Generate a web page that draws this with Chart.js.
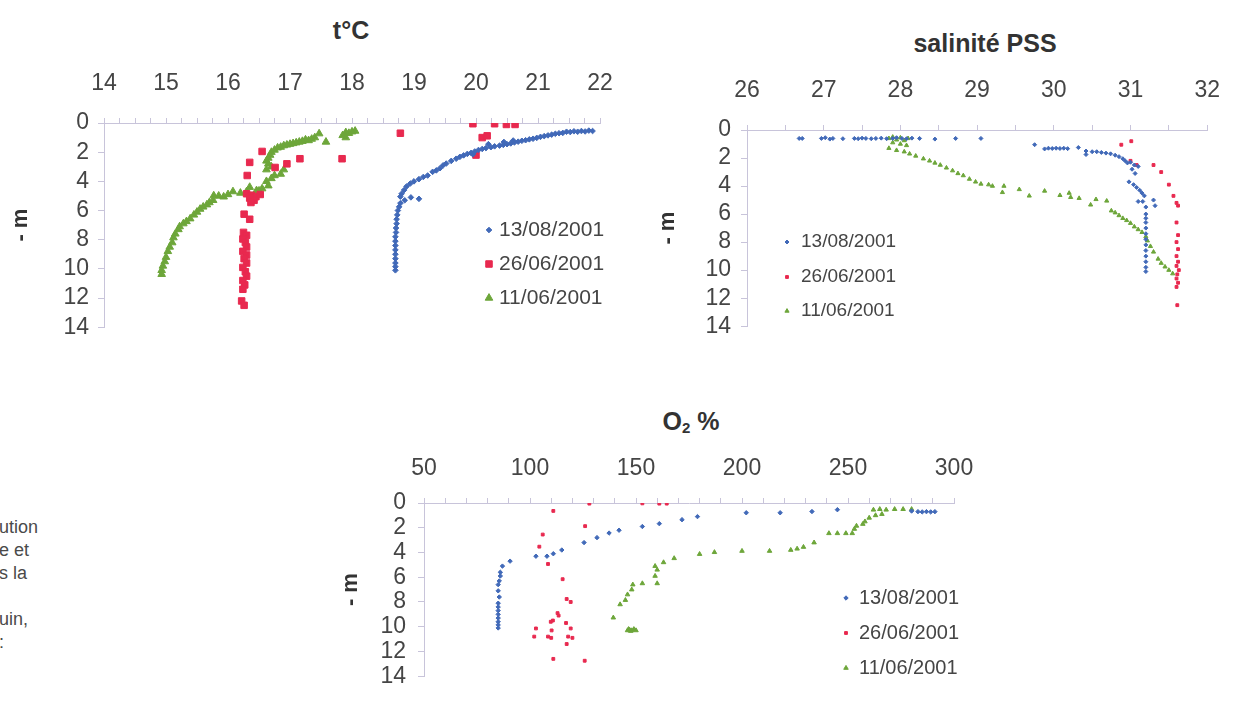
<!DOCTYPE html>
<html><head><meta charset="utf-8">
<script src="https://cdn.jsdelivr.net/npm/chart.js@4.4.0/dist/chart.umd.min.js"></script>
<style>
html,body{margin:0;padding:0;background:#fff;width:1241px;height:702px;overflow:hidden;font-family:"Liberation Sans",Arial,Helvetica,sans-serif;color:#404040;}
.box{position:absolute;}
.ttl{position:absolute;font-weight:bold;font-size:25px;transform:translate(-50%,-50%);white-space:nowrap;color:#333;line-height:1;}
.ttl sub{font-size:60%;vertical-align:-0.25em;}
.cap{position:absolute;left:-1px;top:516px;font-size:18px;line-height:23px;color:#4a4a4a;white-space:pre;}
</style></head><body>

<div class="ttl" style="left:351px;top:30px;">t°C</div>
<div class="ttl" style="left:985px;top:43px;">salinité PSS</div>
<div class="ttl" style="left:691px;top:422px;">O<sub>2</sub> %</div>
<div class="cap">ution
e et
s la

uin,
:</div>

<div class="box" style="left:0;top:0;"><canvas id="c1" width="640" height="350"></canvas></div>
<div class="box" style="left:640px;top:0;"><canvas id="c2" width="601" height="350"></canvas></div>
<div class="box" style="left:330px;top:380px;"><canvas id="c3" width="680" height="322"></canvas></div>

<script>
// ---------- DATA ----------
const seriesLabels = ['13/08/2001', '26/06/2001', '11/06/2001'];
const depthTicks = [0, 2, 4, 6, 8, 10, 12, 14];
const tempTicks = [14, 15, 16, 17, 18, 19, 20, 21, 22];
const salTicks = [26, 27, 28, 29, 30, 31, 32];
const oxyTicks = [50, 100, 150, 200, 250, 300];

// temperature [°C, depth m]
const tempAug = [[21.88,0.55],[21.82,0.52],[21.76,0.58],[21.7,0.55],[21.64,0.6],[21.58,0.57],[21.52,0.62],[21.46,0.6],[21.4,0.68],[21.34,0.7],[21.28,0.74],[21.22,0.8],[21.16,0.85],[21.1,0.9],[21.04,0.95],[20.98,1.02],[20.92,1.08],[20.86,1.12],[20.8,1.18],[20.74,1.22],[20.68,1.28],[20.62,1.33],[20.56,1.4],[20.5,1.45],[20.44,1.5],[20.38,1.55],[20.3,1.6],[20.24,1.66],[20.16,1.72],[20.1,1.78],[20.04,1.85],[19.98,1.95],[19.92,2.05],[19.86,2.12],[19.8,2.22],[19.74,2.32],[19.68,2.45],[19.6,2.6],[19.52,2.78],[19.47,2.9],[19.42,3.1],[19.36,3.25],[19.3,3.35],[19.22,3.6],[19.15,3.7],[19.08,3.85],[19.0,4.0],[18.94,4.15],[18.88,4.35],[18.84,4.6],[18.8,4.85],[18.78,5.05],[18.95,5.1],[19.08,5.2],[18.85,5.3],[18.78,5.5],[18.76,5.75],[18.74,6.0],[18.73,6.3],[18.72,6.6],[18.72,6.9],[18.71,7.2],[18.71,7.5],[18.7,7.8],[18.7,8.1],[18.7,8.4],[18.7,8.7],[18.7,9.0],[18.7,9.3],[18.7,9.6],[18.7,9.85],[18.7,10.1],[20.2,1.45],[20.45,1.3],[19.95,2.15],[20.6,1.2]];
const tempJun26 = [[19.95,0.05],[20.3,0.05],[20.49,0.1],[20.63,0.1],[18.78,0.7],[20.1,1.0],[20.18,0.88],[20.0,2.2],[17.84,2.45],[17.16,2.45],[16.95,2.8],[16.76,3.05],[16.55,1.95],[16.35,2.7],[16.31,3.6],[16.3,4.85],[16.38,4.95],[16.45,5.05],[16.52,4.9],[16.35,5.15],[16.42,5.3],[16.37,5.45],[16.26,6.25],[16.35,6.6],[16.25,7.5],[16.3,7.7],[16.24,7.95],[16.28,8.2],[16.3,8.5],[16.24,8.8],[16.3,9.05],[16.26,9.3],[16.3,9.6],[16.24,9.9],[16.28,10.2],[16.3,10.5],[16.24,10.8],[16.27,11.1],[16.24,11.4],[16.22,12.2],[16.26,12.5]];
const tempJun11 = [[18.05,0.55],[18.0,0.6],[17.95,0.7],[17.9,0.65],[17.85,0.85],[17.9,1.0],[17.47,0.73],[17.58,1.3],[17.4,1.0],[17.35,1.1],[17.3,1.2],[17.25,1.15],[17.2,1.25],[17.15,1.3],[17.1,1.35],[17.05,1.4],[17.0,1.45],[16.95,1.5],[16.9,1.55],[16.85,1.65],[16.8,1.7],[16.75,1.85],[16.7,2.0],[16.68,2.2],[16.65,2.4],[16.62,2.6],[16.65,2.8],[16.7,3.0],[16.62,3.2],[16.9,3.2],[16.85,3.5],[16.75,3.6],[16.7,3.8],[16.62,4.0],[16.65,4.3],[16.55,4.5],[16.5,4.65],[16.46,4.63],[16.35,4.4],[16.3,4.7],[16.2,4.8],[16.08,4.7],[16.0,4.9],[15.93,5.06],[15.85,5.0],[15.77,4.98],[15.76,5.3],[15.7,5.45],[15.66,5.6],[15.6,5.75],[15.55,5.9],[15.5,6.1],[15.45,6.3],[15.39,6.56],[15.33,6.75],[15.28,6.9],[15.22,7.1],[15.2,7.3],[15.15,7.6],[15.12,7.86],[15.1,8.2],[15.06,8.5],[15.03,8.8],[15.0,9.2],[14.98,9.5],[14.95,9.8],[14.93,10.1],[14.93,10.37]];

// salinity [PSS, depth m]
const salAug = [[26.68,0.6],[26.72,0.6],[26.97,0.6],[27.02,0.55],[27.08,0.65],[27.12,0.6],[27.25,0.62],[27.4,0.6],[27.45,0.62],[27.5,0.58],[27.55,0.6],[27.62,0.62],[27.68,0.6],[27.75,0.58],[27.82,0.62],[27.9,0.6],[27.95,0.55],[28.02,0.6],[28.08,0.62],[28.15,0.58],[28.25,0.6],[28.45,0.65],[28.72,0.6],[29.05,0.6],[29.75,1.05],[29.88,1.35],[29.93,1.3],[29.98,1.32],[30.03,1.3],[30.08,1.32],[30.13,1.3],[30.18,1.33],[30.32,1.25],[30.42,1.5],[30.42,1.75],[30.5,1.55],[30.56,1.55],[30.62,1.6],[30.68,1.65],[30.74,1.7],[30.8,1.8],[30.85,1.9],[30.9,2.05],[30.93,2.2],[30.96,2.35],[31.0,2.3],[31.05,2.5],[31.02,2.8],[31.06,3.1],[31.1,2.6],[30.98,3.7],[31.04,3.9],[31.08,4.1],[31.12,4.3],[31.15,4.5],[31.18,4.7],[31.1,5.1],[31.16,5.1],[31.3,5.0],[31.32,5.4],[31.2,5.5],[31.2,6.0],[31.2,6.3],[31.2,6.6],[31.2,7.0],[31.2,7.4],[31.2,7.8],[31.2,8.2],[31.2,8.6],[31.2,9.0],[31.2,9.4],[31.2,9.8],[31.2,10.1]];
const salJun26 = [[30.88,1.05],[31.01,0.8],[31.0,2.2],[31.08,2.5],[31.3,2.5],[31.4,3.0],[31.5,3.9],[31.56,4.7],[31.6,5.2],[31.62,5.4],[31.6,6.6],[31.62,7.5],[31.6,8.0],[31.62,8.5],[31.6,9.0],[31.62,9.4],[31.6,9.7],[31.63,10.0],[31.61,10.3],[31.6,10.6],[31.62,10.9],[31.6,11.2],[31.61,12.5]];
const salJun11 = [[27.85,0.6],[27.9,0.5],[27.95,0.7],[28.0,0.55],[28.05,0.75],[28.1,0.6],[27.9,0.9],[28.0,1.0],[28.08,1.1],[27.85,1.3],[27.95,1.45],[28.05,1.55],[28.12,1.7],[28.2,1.85],[28.3,2.05],[28.38,2.2],[28.45,2.35],[28.52,2.5],[28.6,2.7],[28.68,2.9],[28.75,3.1],[28.82,3.25],[28.9,3.5],[28.98,3.7],[29.05,3.85],[29.15,3.9],[29.2,4.0],[29.33,4.45],[29.35,4.0],[29.55,4.24],[29.68,4.7],[29.88,4.35],[30.08,4.66],[30.2,4.5],[30.22,4.8],[30.33,4.87],[30.48,5.34],[30.55,4.95],[30.69,5.06],[30.75,5.76],[30.8,5.9],[30.85,6.1],[30.9,6.3],[30.95,6.45],[31.0,6.65],[31.05,6.9],[31.1,7.1],[31.15,7.3],[31.2,7.6],[31.22,7.9],[31.26,8.3],[31.3,8.7],[31.36,9.2],[31.4,9.5],[31.45,9.76],[31.5,10.0],[31.55,10.25]];

// oxygen saturation [%, depth m]
const oxyAug = [[291,0.7],[289,0.72],[287,0.7],[285,0.72],[283,0.7],[280,0.65],[245,0.54],[233,0.69],[218,0.79],[202,0.79],[179,1.1],[171.7,1.35],[161,1.67],[153,1.9],[142,2.2],[137.3,2.43],[131.6,2.8],[125.5,3.2],[115,3.8],[111,4.1],[108,4.3],[102.8,4.3],[90.6,4.7],[87,5.1],[86,5.6],[86,5.9],[85.5,6.3],[85,6.6],[85,7.1],[85.5,7.6],[85,8.1],[85,8.4],[85,8.7],[85,9.0],[85,9.3],[85,9.6],[85,9.85],[85,10.1]];
const oxyJun26 = [[128,0.05],[153,0.03],[161,0.05],[164.5,0.05],[111,0.64],[126,1.87],[106,2.55],[104.4,3.53],[108.5,4.93],[115.4,6.16],[117.3,7.76],[119.2,8.0],[113,8.9],[113.5,9.1],[110.8,9.5],[109.8,9.6],[117,9.7],[102.8,10.14],[110.2,10.3],[119.2,10.14],[102,10.8],[108.5,10.8],[110,10.9],[120,10.9],[118,10.8],[117.3,11.4],[111,12.6],[125.8,12.75]];
const oxyJun11 = [[262,0.55],[265,0.5],[268,0.55],[272,0.5],[276,0.5],[280,0.5],[266,0.9],[263,1.0],[260,1.2],[258,1.5],[257,1.7],[254,1.85],[253,2.1],[252,2.45],[249,2.45],[245,2.45],[241,2.45],[234,3.2],[229,3.56],[226,3.7],[223,3.8],[213,3.88],[200,3.88],[187,3.98],[180,4.13],[168,4.47],[163,4.8],[159,5.1],[160,5.4],[159,5.9],[160,6.5],[153,6.5],[148.5,6.6],[148,7.0],[146,7.4],[145,7.85],[142.5,8.2],[139.3,9.27],[146,10.3],[147,10.25],[148,10.3],[149,10.2],[150,10.3],[147.5,10.35],[146.5,10.2]];

// ---------- STYLE ----------
const BLUE = '#4169b8', RED = '#e8294f', GREEN = '#6da63a';
const AXIS = '#c8c4da', TXT = '#454545';
Chart.defaults.font.family = "'Liberation Sans', Arial, Helvetica, sans-serif";
Chart.defaults.color = TXT;

function pts(arr) { return arr.map(p => ({x: p[0], y: p[1]})); }

function drawMarker(ctx, style, r, x, y) {
  ctx.beginPath();
  if (style === 'rect') {
    const s = r * Math.SQRT1_2; ctx.rect(x - s, y - s, 2 * s, 2 * s);
  } else if (style === 'rectRot') {
    ctx.moveTo(x, y - r); ctx.lineTo(x + r, y); ctx.lineTo(x, y + r); ctx.lineTo(x - r, y); ctx.closePath();
  } else if (style === 'triangle') {
    ctx.moveTo(x, y - r); ctx.lineTo(x + 0.866 * r, y + 0.5 * r); ctx.lineTo(x - 0.866 * r, y + 0.5 * r); ctx.closePath();
  } else { ctx.arc(x, y, r, 0, Math.PI * 2); }
  ctx.fill(); ctx.stroke();
}

function legendPlugin(lg) {
  return {
    id: 'lg' + lg.id,
    afterDraw(chart) {
      const ctx = chart.ctx;
      ctx.save();
      chart.data.datasets.forEach((ds, i) => {
        const y = lg.y[i] - lg.oy;
        ctx.fillStyle = ds.backgroundColor; ctx.strokeStyle = ds.borderColor; ctx.lineWidth = 1;
        drawMarker(ctx, ds.pointStyle, ds.pointRadius, lg.mx - lg.ox, y);
        ctx.fillStyle = TXT; ctx.font = lg.font; ctx.textBaseline = 'middle'; ctx.textAlign = 'left';
        ctx.fillText(ds.label, lg.tx - lg.ox, y);
      });
      ctx.restore();
    }
  };
}

function makeChart(c) {
  const isMajor = v => Math.abs(v / c.labelStep - Math.round(v / c.labelStep)) < 1e-6;
  return new Chart(document.getElementById(c.id), {
    type: 'scatter',
    data: {
      datasets: c.series.map((s, i) => ({
        label: seriesLabels[i], data: pts(s.data),
        pointStyle: s.style, pointRadius: s.r, pointHoverRadius: s.r,
        backgroundColor: s.color, borderColor: s.color, pointBorderWidth: 1, showLine: false
      }))
    },
    options: {
      responsive: false, animation: false, devicePixelRatio: 1,
      layout: { padding: { left: 0, top: 0, right: c.padR, bottom: c.padB } },
      plugins: { legend: { display: false }, tooltip: { enabled: false } },
      scales: {
        x: {
          type: 'linear', position: 'top', min: c.xMin, max: c.xMax,
          ticks: { stepSize: c.minorStep, autoSkip: false, maxRotation: 0, minRotation: 0, padding: c.xPad,
            font: { size: 23 }, color: TXT,
            callback: v => isMajor(v) ? String(Math.round(v)) : '' },
          grid: { drawOnChartArea: false, drawTicks: true, tickLength: 5, color: AXIS, lineWidth: 1 },
          border: { display: true, color: AXIS, width: 1 },
          afterFit: s => { s.height = c.xH; }
        },
        y: {
          type: 'linear', position: 'left', min: 0, max: 14, reverse: true,
          afterBuildTicks: s => { s.ticks = depthTicks.map(v => ({ value: v })); },
          ticks: { autoSkip: false, padding: c.yPad, font: { size: 23 }, color: TXT, callback: v => String(v) },
          grid: { drawOnChartArea: false, drawTicks: true, tickLength: 6, color: AXIS, lineWidth: 1 },
          border: { display: true, color: AXIS, width: 1 },
          title: { display: true, text: '- m', color: '#333', font: { size: 22, weight: 'bold' }, padding: { top: c.tPad, bottom: 0 } },
          afterFit: s => { s.width = c.yW; }
        }
      }
    },
    plugins: [legendPlugin(c.legend)]
  });
}

makeChart({
  id: 'c1', xMin: tempTicks[0], xMax: tempTicks[tempTicks.length - 1], minorStep: 0.25, labelStep: 1,
  xH: 123, yW: 104, padR: 40, padB: 12, xPad: 21, yPad: 9, tPad: 8,
  series: [
    { data: tempAug, style: 'rectRot', r: 2.8, color: BLUE },
    { data: tempJun26, style: 'rect', r: 4.6, color: RED },
    { data: tempJun11, style: 'triangle', r: 4.4, color: GREEN }
  ],
  legend: { id: 1, ox: 0, oy: 0, mx: 489, tx: 499, y: [230, 264, 298], font: '21px "Liberation Sans", Arial, sans-serif' }
});

makeChart({
  id: 'c2', xMin: salTicks[0], xMax: salTicks[salTicks.length - 1], minorStep: 0.5, labelStep: 1,
  xH: 130, yW: 107, padR: 16, padB: 20, xPad: 21, yPad: 10, tPad: 15,
  series: [
    { data: salAug, style: 'rectRot', r: 2, color: BLUE },
    { data: salJun26, style: 'rect', r: 2, color: RED },
    { data: salJun11, style: 'triangle', r: 2.4, color: GREEN }
  ],
  legend: { id: 2, ox: 640, oy: 0, mx: 787, tx: 801, y: [242, 277, 311], font: '19px "Liberation Sans", Arial, sans-serif' }
});

makeChart({
  id: 'c3', xMin: oxyTicks[0], xMax: oxyTicks[oxyTicks.length - 1], minorStep: 10, labelStep: 50,
  xH: 123, yW: 94, padR: 56, padB: 9, xPad: 16, yPad: 12, tPad: 8,
  series: [
    { data: oxyAug, style: 'rectRot', r: 2.2, color: BLUE },
    { data: oxyJun26, style: 'rect', r: 2, color: RED },
    { data: oxyJun11, style: 'triangle', r: 2.6, color: GREEN }
  ],
  legend: { id: 3, ox: 330, oy: 380, mx: 846, tx: 859, y: [598, 633, 668], font: '20px "Liberation Sans", Arial, sans-serif' }
});
</script>
</body></html>
